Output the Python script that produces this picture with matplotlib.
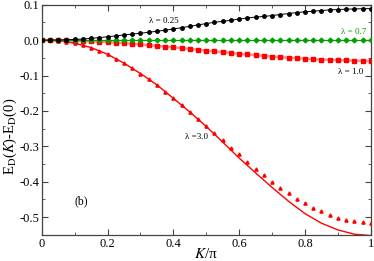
import numpy as np
import matplotlib
matplotlib.use('Agg')
import matplotlib.pyplot as plt
from matplotlib.ticker import MultipleLocator, FixedLocator

plt.rcParams['font.family'] = ['Liberation Serif', 'DejaVu Serif']
plt.rcParams['mathtext.fontset'] = 'stix'
plt.rcParams['axes.unicode_minus'] = False

# K/pi grid of the computed points
k = [i / 40 for i in range(41)]

# lambda = 0.25 (black circles)
lam025 = [0.0, 0.0001, 0.0004, 0.001, 0.002, 0.003, 0.005, 0.007, 0.0095, 0.012,
          0.0145, 0.017, 0.0195, 0.022, 0.025, 0.028, 0.0315, 0.035, 0.039, 0.043,
          0.0467, 0.0504, 0.053, 0.056, 0.0595, 0.0625, 0.065, 0.0668, 0.0694, 0.0722,
          0.075, 0.0778, 0.080, 0.0816, 0.0836, 0.0853, 0.0864, 0.0872, 0.088, 0.0887, 0.089]

# lambda = 0.7 (green diamonds)
lam07 = [0.0] * 41

# lambda = 1.0 (red squares)
lam10 = [0.0, -0.0001, -0.0004, -0.0009, -0.0016, -0.0025, -0.0035, -0.0045, -0.0056, -0.007,
         -0.0086, -0.0103, -0.0122, -0.0142, -0.0162, -0.0183, -0.0204, -0.0226, -0.0249, -0.0272,
         -0.0295, -0.0318, -0.034, -0.0362, -0.0385, -0.0405, -0.0425, -0.0445, -0.0465, -0.0482,
         -0.0498, -0.0512, -0.0525, -0.0538, -0.0549, -0.0558, -0.0566, -0.0575, -0.0582, -0.0587, -0.059]

# lambda = 3.0 (red triangles)
lam30_pts = [0.0, -0.0005, -0.002, -0.0045, -0.0085, -0.014, -0.021, -0.030, -0.040, -0.052,
             -0.065, -0.079, -0.0943, -0.1105, -0.1264, -0.1453, -0.1643, -0.182, -0.202, -0.2227,
             -0.2416, -0.2624, -0.2833, -0.304, -0.322, -0.3436, -0.3626, -0.3805, -0.3994, -0.4164,
             -0.4324, -0.4475, -0.4598, -0.473, -0.4834, -0.4938, -0.5014, -0.507, -0.5117, -0.5145, -0.5173]

# lambda = 3.0 solid curve
k_line = [0.0, 0.05, 0.1, 0.15, 0.2, 0.25, 0.3, 0.35, 0.4, 0.45, 0.5,
          0.55, 0.6, 0.65, 0.7, 0.75, 0.8, 0.85, 0.9, 0.95, 1.0]
lam30_line = [0.0, -0.002, -0.0085, -0.021, -0.040, -0.065, -0.0943, -0.1264, -0.1643, -0.203, -0.244,
              -0.288, -0.333, -0.375, -0.416, -0.455, -0.490, -0.517, -0.536, -0.548, -0.552]

xticks = [0, 0.2, 0.4, 0.6, 0.8, 1.0]
xticklabels = ['0', '0.2', '0.4', '0.6', '0.8', '1']
yticks = [-0.5, -0.4, -0.3, -0.2, -0.1, 0.0, 0.1]
yticklabels = ['-0.5', '-0.4', '-0.3', '-0.2', '-0.1', '0.0', '0.1']

red = '#ff0000'
green = '#00a000'

fig = plt.figure(figsize=(3.74, 2.61), dpi=100)
ax = fig.add_axes([0.1115, 0.1, 0.88, 0.882])

ax.plot(k_line, lam30_line, color=red, lw=1.0, zorder=2)
ax.plot(k, lam30_pts, ls='none', marker='^', ms=2.3, color=red, mec=red, zorder=3)
ax.plot(k, lam10, color='#ff9090', lw=1.8, zorder=2)
ax.plot(k, lam10, ls='none', marker='s', ms=2.2, color=red, zorder=3)
ax.plot(k, lam07, color=green, lw=0.9, marker='D', ms=2.4, mec=green, zorder=4)
ax.plot(k, lam025, color='k', lw=0.7, marker='o', ms=2.5, zorder=5)

ax.text(0.37, 0.053, 'λ = 0.25', fontsize=6.5, ha='center', va='center')
ax.text(0.985, 0.024, 'λ = 0.7', fontsize=6.5, ha='right', va='center', color=green)
ax.text(0.94, -0.089, 'λ = 1.0', fontsize=6.5, ha='center', va='center')
ax.text(0.47, -0.273, 'λ =3.0', fontsize=6.5, ha='center', va='center')
ax.text(0.12, -0.455, '(b)', fontsize=8.5, ha='center', va='center')

ax.set_xlim(0, 1)
ax.set_ylim(-0.55, 0.1)
ax.xaxis.set_major_locator(FixedLocator(xticks))
ax.xaxis.set_minor_locator(MultipleLocator(0.1))
ax.yaxis.set_major_locator(FixedLocator(yticks))
ax.yaxis.set_minor_locator(MultipleLocator(0.05))
ax.set_xticklabels(xticklabels)
ax.set_yticklabels(yticklabels)
ax.tick_params(which='both', direction='in', top=True, right=True, labelsize=9,
               color='#444444', pad=2)
ax.tick_params(which='major', length=4.5, width=0.8)
ax.tick_params(which='minor', length=2.5, width=0.6)
for s in ax.spines.values():
    s.set_color('#444444')
    s.set_linewidth(0.9)

ax.set_xlabel(r'$K$/π', fontsize=11, labelpad=-2)
ax.set_ylabel(r'E$_\mathrm{D}$($K$)-E$_\mathrm{D}$(0)', fontsize=10.5)
ax.yaxis.set_label_coords(-0.07, 0.43)

fig.savefig('out.png', dpi=100)
